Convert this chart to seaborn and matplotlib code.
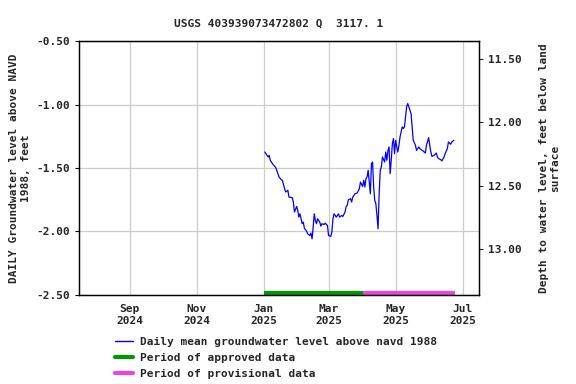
import matplotlib
matplotlib.use("Agg")
import matplotlib.pyplot as plt
import matplotlib.dates as mdates
from matplotlib.lines import Line2D
import seaborn as sns
import pandas as pd
import numpy as np

# ---- data ----
start_date = "2025-01-01"
day_offsets = [1, 4, 5, 6, 8, 10, 11, 13, 14, 16, 17, 19, 20, 22, 23, 26, 27, 28, 30, 31,
               32, 33, 35, 36, 37, 39, 40, 42, 43, 44, 45, 46, 47, 48, 49, 51, 52, 53, 55, 56,
               57, 58, 59, 61, 62, 63, 64, 66, 67, 68, 69, 71, 72, 74, 75, 76, 77, 79, 80, 81,
               83, 85, 87, 88, 90, 91, 92, 93, 94, 95, 97, 98, 99, 100, 101, 102, 103, 104, 105, 106,
               107, 108, 110, 111, 112, 113, 114, 115, 116, 117, 118, 119, 120, 121, 122, 123, 124, 126, 127, 128,
               129, 130, 131, 132, 134, 135, 136, 138, 139, 141, 142, 144, 145, 147, 148, 150, 151, 152, 153, 155,
               157, 158, 159, 161, 162, 164, 165, 167, 168, 170, 171, 173]
levels = [-1.374, -1.413, -1.400, -1.439, -1.466, -1.487, -1.497, -1.545, -1.571, -1.592,
          -1.597, -1.663, -1.689, -1.676, -1.729, -1.734, -1.768, -1.847, -1.803, -1.834,
          -1.887, -1.861, -1.939, -1.926, -1.974, -1.997, -2.018, -2.032, -2.013, -2.058,
          -1.966, -1.861, -1.913, -1.939, -1.900, -1.926, -1.958, -1.939, -1.945, -1.934,
          -1.945, -1.953, -2.032, -2.039, -2.005, -1.900, -1.861, -1.887, -1.874, -1.861,
          -1.887, -1.874, -1.882, -1.847, -1.803, -1.795, -1.750, -1.742, -1.768, -1.729,
          -1.703, -1.697, -1.663, -1.611, -1.645, -1.597, -1.650, -1.584, -1.571, -1.518,
          -1.703, -1.466, -1.453, -1.650, -1.755, -1.782, -1.874, -1.979, -1.703, -1.518,
          -1.492, -1.413, -1.453, -1.374, -1.439, -1.361, -1.334, -1.545, -1.439, -1.308,
          -1.268, -1.387, -1.282, -1.334, -1.374, -1.321, -1.255, -1.176, -1.189, -1.176,
          -1.097, -1.018, -0.992, -1.018, -1.071, -1.176, -1.282, -1.321, -1.361, -1.334,
          -1.347, -1.361, -1.366, -1.382, -1.321, -1.261, -1.321, -1.374, -1.408, -1.400,
          -1.382, -1.413, -1.426, -1.434, -1.445, -1.413, -1.387, -1.347, -1.295, -1.313,
          -1.295, -1.282]
approved_period = ["2025-01-01", "2025-04-01"]
provisional_period = ["2025-04-01", "2025-06-24"]
depth_offset = 10.86
x_ticks = ["2024-09-01", "2024-11-01", "2025-01-01", "2025-03-01", "2025-05-01", "2025-07-01"]
x_limits = ["2024-07-17", "2025-07-16"]
left_ticks = [-2.5, -2.0, -1.5, -1.0, -0.5]
right_ticks = [11.5, 12.0, 12.5, 13.0]
title = "USGS 403939073472802 Q  3117. 1"

dates = pd.to_datetime(start_date) + pd.to_timedelta(day_offsets, unit="D")
df = pd.DataFrame({"date": dates, "level": levels})

sns.set_style("white")
plt.rcParams["font.family"] = ["DejaVu Sans Mono"]
plt.rcParams["font.weight"] = "bold"
plt.rcParams["font.size"] = 8

fig = plt.figure(figsize=(5.76, 3.84), dpi=100)
ax = fig.add_axes([0.137, 0.232, 0.695, 0.661])

blue = "#0000ff"
green = "#009900"
magenta = "#ee44dd"

sns.lineplot(data=df, x="date", y="level", ax=ax, color=blue, linewidth=0.9)

bar_y = -2.485
ax.plot(pd.to_datetime(approved_period), [bar_y, bar_y], color=green, linewidth=3,
        solid_capstyle="butt")
ax.plot(pd.to_datetime(provisional_period), [bar_y, bar_y], color=magenta, linewidth=3,
        solid_capstyle="butt")

ax.set_xlim(pd.to_datetime(x_limits[0]), pd.to_datetime(x_limits[1]))
ax.set_ylim(-2.5, -0.5)
ax.set_xticks(pd.to_datetime(x_ticks))
ax.xaxis.set_major_formatter(mdates.DateFormatter("%b\n%Y"))
ax.set_yticks(left_ticks)
ax.set_yticklabels([f"{v:.2f}" for v in left_ticks])
ax.grid(True, color="#cccccc", linewidth=0.9)
ax.set_axisbelow(True)
for s in ax.spines.values():
    s.set_color("black")
    s.set_linewidth(0.9)
ax.tick_params(axis="both", length=3, width=0.8, color="black", labelsize=8)
ax.set_xlabel("")
ax.set_ylabel("DAILY Groundwater level above NAVD\n1988, feet", fontsize=8, fontweight="bold")
ax.set_title(title, fontsize=8, fontweight="bold", pad=10.5)

ax2 = ax.twinx()
ax2.set_ylim(depth_offset + 2.5, depth_offset + 0.5)
ax2.set_yticks(right_ticks)
ax2.set_yticklabels([f"{v:.2f}" for v in right_ticks])
ax2.tick_params(axis="y", length=3, width=0.8, labelsize=8)
ax2.set_ylabel("Depth to water level, feet below land\nsurface", fontsize=8,
               fontweight="bold", labelpad=12)
ax2.grid(False)
for s in ax2.spines.values():
    s.set_color("black")
    s.set_linewidth(0.9)

handles = [Line2D([0], [0], color=blue, linewidth=1),
           Line2D([0], [0], color=green, linewidth=3),
           Line2D([0], [0], color=magenta, linewidth=3)]
labels = ["Daily mean groundwater level above navd 1988",
          "Period of approved data",
          "Period of provisional data"]
fig.legend(handles, labels, loc="upper left", bbox_to_anchor=(0.200, 0.122),
           frameon=False, fontsize=8, handlelength=1.6, handletextpad=0.6,
           labelspacing=0.52, borderaxespad=0, borderpad=0)

fig.savefig("out.png", dpi=100)
